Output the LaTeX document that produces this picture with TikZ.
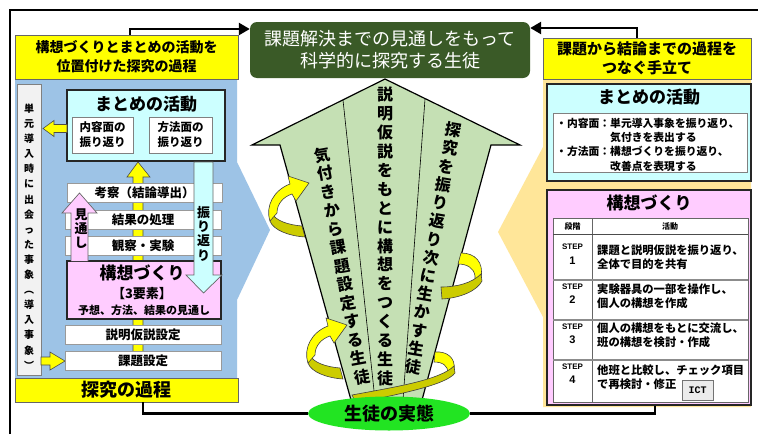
\documentclass[tikz,border=0pt]{standalone}
\usepackage{fontspec}
\setmainfont{Noto Sans CJK JP}
\newfontfamily\lsans{Liberation Sans}
\newfontfamily\lmono{Liberation Mono}
\usetikzlibrary{arrows.meta,shapes.geometric}
\definecolor{panelblue}{HTML}{9DC3E6}
\definecolor{paneltan}{HTML}{FFE699}
\definecolor{titleyel}{HTML}{FFFF00}
\definecolor{goalgreen}{HTML}{3A5A27}
\definecolor{arrowgreen}{HTML}{C5E0B4}
\definecolor{boxcyan}{HTML}{CCFFFF}
\definecolor{boxpink}{HTML}{FFCCFF}
\definecolor{ellgreen}{HTML}{22E422}
\definecolor{ribyel}{HTML}{FFFF00}
\definecolor{ribolive}{HTML}{CCCC00}
\definecolor{stripgray}{HTML}{F2F2F2}
\newcommand\fsz[2]{\fontsize{#1pt}{#2pt}\selectfont}
\begin{document}
\begin{tikzpicture}[x=1pt,y=-1pt,
  titlebox/.style={draw=black!60, line width=0.6pt, fill=titleyel, inner sep=0pt, align=center},
  stepbox/.style={draw=black!40, line width=0.8pt, fill=white, inner sep=0pt, minimum height=19pt, font=\bfseries\fsz{12.5}{14}},
  framebox/.style={draw=black!85, line width=1.4pt, inner sep=0pt},
  subbox/.style={draw=black!50, line width=1pt, fill=white, inner sep=0pt},
  yelarrow/.style={fill=ribyel, draw=black!70, line width=0.6pt},
  conn/.style={line width=2.5pt, draw=black},
  vtext/.style={inner sep=0pt, align=center},
  ribtop/.style={fill=ribyel, draw=black!75, line width=0.6pt},
  ribside/.style={fill=ribolive, draw=black!75, line width=0.6pt},
  plain/.style={inner sep=0pt},
]
\useasboundingbox (0,0) rectangle (758,434);
\fill[white] (0,0) rectangle (758,434);
% outer frame
\draw[line width=1.5pt] (10,434) -- (10,10) -- (758,10);

% side panels
\fill[panelblue] (15,79) -- (237,79) -- (237,162) -- (270,230) -- (237,300) -- (237,378) -- (15,378) -- cycle;
\fill[paneltan] (543,79) -- (751,79) -- (751,407) -- (543,407) -- (543,317) -- (498,232) -- (543,147) -- cycle;

% central arrow
\draw[fill=arrowgreen, line width=1.2pt, line join=miter] (385,79) -- (520,145) -- (491,145) -- (422,400) -- (351,400) -- (280,145) -- (252,145) -- cycle;
\draw[line width=0.6pt] (343,100) -- (375,400);
\draw[line width=0.6pt] (425,99) -- (403,400);

\node[vtext, rotate=10.2, font=\bfseries\fsz{16}{18.8}] (colA) at (342,266) {気\\付\\き\\か\\ら\\課\\題\\設\\定\\す\\る\\生\\徒};
\node[vtext, font=\bfseries\fsz{16}{18.9}] (colB) at (385,236.5) {説\\明\\仮\\説\\を\\も\\と\\に\\構\\想\\を\\つ\\く\\る\\生\\徒};
\node[vtext, rotate=-9.6, font=\bfseries\fsz{16}{18.5}] (colC) at (433,248.5) {探\\究\\を\\振\\り\\返\\り\\次\\に\\生\\か\\す\\生\\徒};

% ribbons
\begin{scope}
  \path[ribside] (271,212) .. controls (275,221) and (289,225) .. (302,226) -- (305,237) .. controls (289,236) and (273,230) .. (270,221) -- cycle;
  \path[ribtop] (270,221) .. controls (265,206) and (274,190) .. (290,184) -- (288,176) -- (309,183) -- (296,201) -- (292,194) .. controls (283,197) and (277,204) .. (277,213) -- cycle;
\end{scope}
\begin{scope}[shift={(38,142)}]
  \path[ribside] (271,212) .. controls (275,221) and (289,225) .. (302,226) -- (305,237) .. controls (289,236) and (273,230) .. (270,221) -- cycle;
  \path[ribtop] (270,221) .. controls (265,206) and (274,190) .. (290,184) -- (288,176) -- (309,183) -- (296,201) -- (292,194) .. controls (283,197) and (277,204) .. (277,213) -- cycle;
\end{scope}
\path[ribtop] (461,253) .. controls (475,253) and (484,262) .. (481,278) -- (475,283) -- (475,276) .. controls (474,268) and (467,264) .. (458,264) -- cycle;
\path[ribside] (481,274) .. controls (472,283) and (457,287) .. (441,287) -- (442,299) .. controls (460,298) and (477,291) .. (482,281) -- cycle;
\path[ribtop] (435,352) .. controls (447,351) and (456,358) .. (454,370) -- (448,373) .. controls (448,366) and (443,362) .. (434,362) -- cycle;
\path[ribside] (454,366) .. controls (440,380) and (395,387) .. (352,395) -- (356,403) .. controls (400,394) and (446,385) .. (455,373) -- cycle;

% ellipse and goal
\node[ellipse, fill=ellgreen, minimum width=162pt, minimum height=34pt, inner sep=0pt, font=\bfseries\fsz{18}{20}] (actual) at (389,413.5) {生徒の実態};
\node[fill=goalgreen, rounded corners=7pt, minimum width=280pt, minimum height=56pt, inner sep=0pt, text=white, align=center, font=\fsz{18}{22}] (goal) at (390,50) {課題解決までの見通しをもって\\科学的に探究する生徒};

% titles
\node[titlebox, minimum width=223pt, minimum height=44pt, font=\bfseries\fsz{14}{19}] (ltitle) at (126.5,57) {構想づくりとまとめの活動を\\位置付けた探究の過程};
\node[titlebox, minimum width=223pt, minimum height=24pt, font=\bfseries\fsz{18}{20}] (lbottom) at (126.5,390) {探究の過程};
\node[titlebox, minimum width=208pt, minimum height=41pt, font=\bfseries\fsz{15}{19}] (rtitle) at (647,58.5) {課題から結論までの過程を\\つなぐ手立て};

% right panel boxes (needed for connectors)
\node[framebox, fill=boxpink, minimum width=204pt, minimum height=215pt] (rkoso) at (649,297.5) {};

% connectors
\coordinate (cTL) at (130,29);
\coordinate (cTR) at (637,28);
\coordinate (cBL) at (143,413.5);
\coordinate (cBR) at (655,413.5);
\draw[conn, -{Triangle[length=11pt,width=12pt]}] (cTL |- ltitle.north) -- (cTL) -- (cTL -| goal.west);
\draw[conn, -{Triangle[length=11pt,width=12pt]}] (cTR |- rtitle.north) -- (cTR) -- (cTR -| goal.east);
\draw[conn] (cBL |- lbottom.south) -- (cBL) -- (actual.west);
\draw[conn] (cBR |- rkoso.south) -- (cBR) -- (actual.east);

% ---------- left panel ----------
\node[draw=black!50, line width=0.8pt, fill=stripgray, minimum width=24pt, minimum height=291pt, inner sep=0pt] (strip) at (29,229.5) {};
\node[vtext, font=\bfseries\fsz{10}{15.1}] (striptext) at (29,236.5) {単\\元\\導\\入\\時\\に\\出\\会\\っ\\た\\事\\象\\︵\\導\\入\\事\\象\\︶};

\node[framebox, fill=boxcyan, minimum width=158pt, minimum height=71pt] (lmatome) at (146,125.5) {};
\node[plain, font=\bfseries\fsz{17}{19}] (lmtitle) at (146,104) {まとめの活動};
\node[subbox, minimum width=61pt, minimum height=36pt, align=center, font=\bfseries\fsz{11.5}{15}] (naiyo) at (102.5,135) {内容面の\\振り返り};
\node[subbox, minimum width=63pt, minimum height=36pt, align=center, font=\bfseries\fsz{11.5}{15}] (hoho) at (180.5,135) {方法面の\\振り返り};

% yellow arrows
\draw[yelarrow] (67,124.5) -- (54,124.5) -- (54,120.5) -- (43,128.5) -- (54,136.5) -- (54,132.5) -- (67,132.5) -- cycle;
\draw[yelarrow] (41,357) -- (50,357) -- (50,352) -- (65,361) -- (50,370) -- (50,365) -- (41,365) -- cycle;
\draw[yelarrow] (133,362) -- (133,177) -- (127,177) -- (138,162) -- (150,177) -- (143,177) -- (143,362) -- cycle;

\node[stepbox, minimum width=155pt] (kousatsu) at (144.5,192.5) {考察（結論導出）};
\node[stepbox, minimum width=156pt] (kekka) at (143,219.5) {結果の処理};
\node[stepbox, minimum width=156pt] (kansatsu) at (143,245.5) {観察・実験};
\node[framebox, fill=boxpink, minimum width=154pt, minimum height=58pt] (lkoso) at (144,290) {};
\node[plain, font=\bfseries\fsz{17}{19}] (lk1) at (142,273) {構想づくり};
\node[plain, font=\bfseries\fsz{13}{15}] (lk2) at (142,294) {【3要素】};
\node[plain, font=\bfseries\fsz{11}{13}] (lk3) at (144,310) {予想、方法、結果の見通し};
\node[stepbox, minimum width=156pt] (setsumei) at (143,334.5) {説明仮説設定};
\node[stepbox, minimum width=156pt] (kadai) at (143,361) {課題設定};

% 見通し arrow
\draw[fill=boxpink, draw=black!60, line width=0.7pt] (71,261) -- (71,213) -- (62,213) -- (79.5,193) -- (97,213) -- (88,213) -- (88,261);
\node[vtext, font=\bfseries\fsz{13}{14}] (mitoshi) at (81,229) {見\\通\\し};
% 振り返り arrow
\draw[fill=boxcyan, draw=black!60, line width=0.7pt] (194,162) -- (213,162) -- (213,275) -- (222,275) -- (203.5,293) -- (186,275) -- (194,275) -- cycle;
\node[vtext, font=\bfseries\fsz{13}{14.3}] (furikaeri) at (203.5,233.5) {振\\り\\返\\り};

% ---------- right panel ----------
\node[framebox, fill=boxcyan, minimum width=204pt, minimum height=97pt] (rmatome) at (649,132.5) {};
\node[plain, font=\bfseries\fsz{17}{19}] (rmtitle) at (649,97) {まとめの活動};
\node[subbox, minimum width=194pt, minimum height=59pt] (rminner) at (650,142.5) {};
\node[plain, anchor=west, align=left, font=\bfseries\fsz{10.8}{14.3}] (rmtext) at (556,144.5) {・内容面：単元導入事象を振り返り、\\\hspace*{5em}気付きを表出する\\・方法面：構想づくりを振り返り、\\\hspace*{5em}改善点を表現する};

\node[plain, font=\bfseries\fsz{17}{19}] (rktitle) at (649,203) {構想づくり};
\node[subbox, draw=black!60, minimum width=195pt, minimum height=184pt] (table) at (650.5,310) {};
\draw[black!60, line width=0.8pt] (592,218) -- (592,402);
\draw[black!70, line width=0.6pt] (553,234.5) -- (748,234.5);
\draw[black!45, line width=1.4pt] (553,280) -- (748,280);
\draw[black!45, line width=1.4pt] (553,320) -- (748,320);
\draw[black!45, line width=1.4pt] (553,360) -- (748,360);
\node[plain, font=\bfseries\fsz{8}{9}] (h1) at (572.5,226) {段階};
\node[plain, font=\bfseries\fsz{8}{9}] (h2) at (670,226) {活動};

\node[plain, font=\lsans\bfseries\fsz{8}{9}] (s1) at (572.5,247) {STEP};
\node[plain, font=\lsans\bfseries\fsz{11}{12}] (n1) at (572.5,261) {1};
\node[plain, font=\lsans\bfseries\fsz{8}{9}] (s2) at (572.5,287) {STEP};
\node[plain, font=\lsans\bfseries\fsz{11}{12}] (n2) at (572.5,300) {2};
\node[plain, font=\lsans\bfseries\fsz{8}{9}] (s3) at (572.5,327) {STEP};
\node[plain, font=\lsans\bfseries\fsz{11}{12}] (n3) at (572.5,340) {3};
\node[plain, font=\lsans\bfseries\fsz{8}{9}] (s4) at (572.5,367) {STEP};
\node[plain, font=\lsans\bfseries\fsz{11}{12}] (n4) at (572.5,380) {4};

\node[plain, anchor=west, align=left, font=\bfseries\fsz{11.3}{14}] (a1) at (597,257.5) {課題と説明仮説を振り返り、\\全体で目的を共有};
\node[plain, anchor=west, align=left, font=\bfseries\fsz{11.3}{14}] (a2) at (597,296) {実験器具の一部を操作し、\\個人の構想を作成};
\node[plain, anchor=west, align=left, font=\bfseries\fsz{11.3}{14}] (a3) at (597,335) {個人の構想をもとに交流し、\\班の構想を検討・作成};
\node[plain, anchor=west, align=left, font=\bfseries\fsz{11.3}{14}] (a4) at (597,377.5) {他班と比較し、チェック項目\\で再検討・修正};
\node[draw=black!55, line width=0.7pt, fill=black!8, minimum width=31pt, minimum height=20pt, inner sep=0pt, font=\lmono\bfseries\fsz{10}{11}] (ict) at (697.5,390) {ICT};
\end{tikzpicture}
\end{document}
